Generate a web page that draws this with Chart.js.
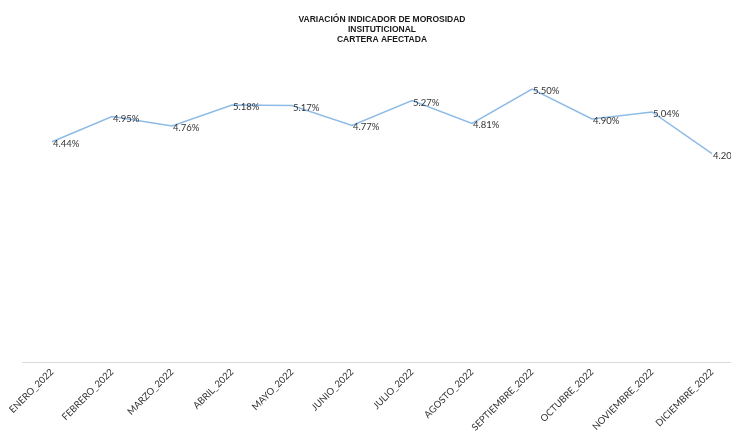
<!DOCTYPE html>
<html><head><meta charset="utf-8">
<script src="https://cdn.jsdelivr.net/npm/chart.js@4/dist/chart.umd.min.js"></script>
<style>html,body{margin:0;padding:0;overflow:hidden;background:#fff;width:731px;height:440px}
#wrap{position:absolute;left:0;top:0;width:752px;height:440px}</style>
</head><body>
<div id="wrap"><canvas id="c" width="752" height="440"></canvas></div>
<script>
const categories = ["ENERO_2022","FEBRERO_2022","MARZO_2022","ABRIL_2022","MAYO_2022","JUNIO_2022","JULIO_2022","AGOSTO_2022","SEPTIEMBRE_2022","OCTUBRE_2022","NOVIEMBRE_2022","DICIEMBRE_2022"];
const morosidad = [4.44, 4.95, 4.76, 5.18, 5.17, 4.77, 5.27, 4.81, 5.50, 4.90, 5.04, 4.20];
const titleLines = ["VARIACIÓN INDICADOR DE MOROSIDAD","INSITUTICIONAL","CARTERA AFECTADA"];

const labelPlugin = {
  id: 'pointLabels',
  afterDatasetsDraw(chart) {
    const ctx = chart.ctx;
    const meta = chart.getDatasetMeta(0);
    ctx.save();
    ctx.font = '9.5px Lato, "Liberation Sans", sans-serif';
    ctx.fillStyle = '#333333';
    ctx.textAlign = 'left';
    ctx.textBaseline = 'middle';
    meta.data.forEach((pt, i) => {
      ctx.fillText(morosidad[i].toFixed(2) + '%', pt.x + 1, pt.y + 2);
    });
    ctx.restore();
  }
};

new Chart(document.getElementById('c'), {
  type: 'line',
  data: {
    labels: categories,
    datasets: [{
      data: morosidad,
      borderColor: '#8dbbe6',
      borderWidth: 1.5,
      pointRadius: 0,
      tension: 0,
      fill: false
    }]
  },
  options: {
    responsive: false,
    animation: false,
    layout: { padding: { left: 22, right: 10, top: 6, bottom: 3 } },
    plugins: {
      legend: { display: false },
      tooltip: { enabled: false },
      title: {
        display: true,
        text: titleLines,
        color: '#1a1a1a',
        font: { family: '"Liberation Sans", Arial, sans-serif', size: 8.5, weight: 'bold', lineHeight: 1.15 },
        padding: { top: 9, bottom: 20 }
      }
    },
    scales: {
      x: {
        offset: true,
        grid: { display: false, drawTicks: false },
        border: { display: true, color: '#d9d9d9', width: 1 },
        ticks: {
          maxRotation: 45, minRotation: 45,
          autoSkip: false,
          color: '#333333',
          padding: 4,
          font: { family: 'Lato, "Liberation Sans", sans-serif', size: 9.5 }
        }
      },
      y: {
        display: false,
        min: 0, max: 6
      }
    }
  },
  plugins: [labelPlugin]
});
</script>
</body></html>
